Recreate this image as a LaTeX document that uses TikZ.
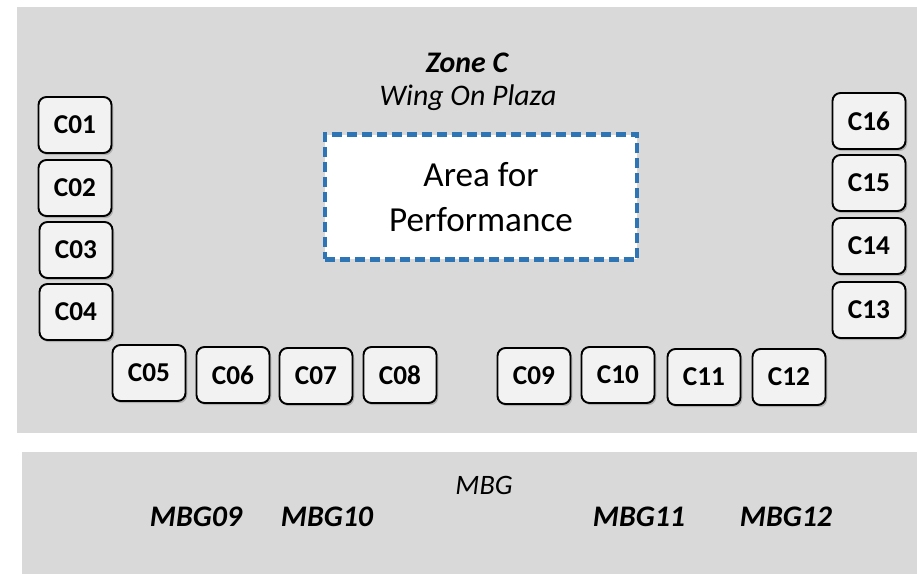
\documentclass[tikz,border=0pt]{standalone}
\usepackage{fontspec}
\setmainfont{Carlito}
\usepackage{tikz}
\usetikzlibrary{shadows}
\definecolor{zonegray}{HTML}{D9D9D9}
\definecolor{stallfill}{HTML}{F2F2F2}
\definecolor{stageblue}{HTML}{2E75B6}
\tikzset{
  stall/.style={draw=black, line width=1.1pt, fill=stallfill, rounded corners=4.5pt,
    minimum width=1.46cm, minimum height=1.12cm, inner sep=0pt,
    font=\fontsize{15.5}{17}\selectfont\bfseries,
    drop shadow={shadow xshift=1pt, shadow yshift=-1.2pt, opacity=0.45}},
  mbglabel/.style={font=\fontsize{17}{19}\selectfont\bfseries\itshape},
}
\newcommand{\stall}[3]{\node[stall] (#1) at ( #2 , #3 ) {#1};}

\begin{document}
\begin{tikzpicture}[x=0.02cm, y=-0.02cm]
    \useasboundingbox (0,0) rectangle (917,574);
    \fill[white] (0,0) rectangle (917,574);
    % the two zones
    \fill[zonegray] (17,7) rectangle (917,433);
    \fill[zonegray] (22,452) rectangle (917,574);

    \node[font=\fontsize{17}{19}\selectfont\bfseries\itshape] (zone) at (467,63) {Zone C};
    \node[font=\fontsize{17}{19}\selectfont\itshape] (plaza) at (468,98) {Wing On Plaza};

    % performance area
    \node[draw=stageblue, line width=2.3pt, dash pattern=on 5.7pt off 2.8pt, fill=white,
      minimum width=6.24cm, minimum height=2.5cm, align=center,
      font=\fontsize{20}{26}\selectfont] (stage) at (481,197) {Area for\\Performance};

    % left column
    \stall{C01}{75}{125}
    \stall{C02}{75}{188}
    \stall{C03}{76}{250}
    \stall{C04}{76}{312}
    % bottom row
    \stall{C05}{149}{373}
    \stall{C06}{233}{375}
    \stall{C07}{316}{376}
    \stall{C08}{400}{375}
    \stall{C09}{534}{376}
    \stall{C10}{618}{375}
    \stall{C11}{704}{377}
    \stall{C12}{789}{377}
    % right column
    \stall{C13}{869}{310}
    \stall{C14}{869}{246}
    \stall{C15}{869}{183}
    \stall{C16}{869}{121}

    % MBG
    \node[font=\fontsize{16}{18}\selectfont\itshape] (mbg) at (484,485) {MBG};
    \node[mbglabel] (MBG09) at (196,517) {MBG09};
    \node[mbglabel] (MBG10) at (327,517) {MBG10};
    \node[mbglabel] (MBG11) at (639,517) {MBG11};
    \node[mbglabel] (MBG12) at (786,517) {MBG12};

    \end{tikzpicture}
\end{document}
